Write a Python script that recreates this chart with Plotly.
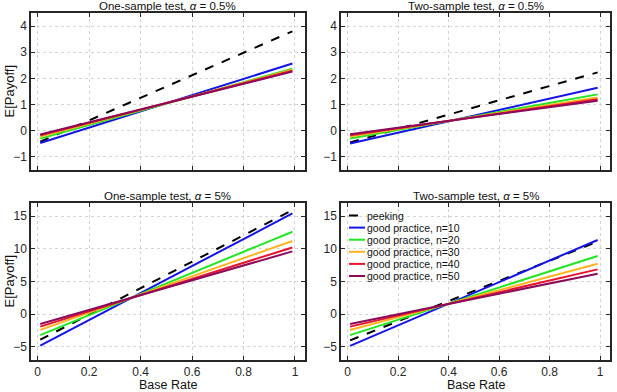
import plotly.graph_objects as go

# ---------------- data ----------------
base_rate = [0.01, 0.99]

series_names = ["peeking", "good practice, n=10", "good practice, n=20",
                "good practice, n=30", "good practice, n=40", "good practice, n=50"]
series_colors = ["#000000", "#1414e6", "#22e622", "#ffb41e", "#e6142d", "#8c0a5a"]
series_dash = ["dash", "solid", "solid", "solid", "solid", "solid"]

# One-sample test, alpha = 0.5%
one_a05_peeking = [-0.42, 3.80]
one_a05_n10 = [-0.47, 2.57]
one_a05_n20 = [-0.30, 2.37]
one_a05_n30 = [-0.22, 2.33]
one_a05_n40 = [-0.17, 2.29]
one_a05_n50 = [-0.14, 2.26]

# Two-sample test, alpha = 0.5%
two_a05_peeking = [-0.45, 2.23]
two_a05_n10 = [-0.49, 1.64]
two_a05_n20 = [-0.30, 1.39]
two_a05_n30 = [-0.22, 1.27]
two_a05_n40 = [-0.17, 1.20]
two_a05_n50 = [-0.13, 1.15]

# One-sample test, alpha = 5%
one_a5_peeking = [-3.9, 15.9]
one_a5_n10 = [-4.8, 15.4]
one_a5_n20 = [-3.2, 12.6]
one_a5_n30 = [-2.4, 11.2]
one_a5_n40 = [-1.9, 10.2]
one_a5_n50 = [-1.5, 9.6]

# Two-sample test, alpha = 5%
two_a5_peeking = [-4.0, 11.1]
two_a5_n10 = [-4.85, 11.35]
two_a5_n20 = [-3.2, 8.9]
two_a5_n30 = [-2.4, 7.7]
two_a5_n40 = [-1.9, 6.85]
two_a5_n50 = [-1.5, 6.2]

panel_titles = ["One-sample test, <i>α</i> = 0.5%", "Two-sample test, <i>α</i> = 0.5%",
                "One-sample test, <i>α</i> = 5%", "Two-sample test, <i>α</i> = 5%"]
panels = [
    [one_a05_peeking, one_a05_n10, one_a05_n20, one_a05_n30, one_a05_n40, one_a05_n50],
    [two_a05_peeking, two_a05_n10, two_a05_n20, two_a05_n30, two_a05_n40, two_a05_n50],
    [one_a5_peeking, one_a5_n10, one_a5_n20, one_a5_n30, one_a5_n40, one_a5_n50],
    [two_a5_peeking, two_a5_n10, two_a5_n20, two_a5_n30, two_a5_n40, two_a5_n50],
]

x_ticks = [0, 0.2, 0.4, 0.6, 0.8, 1]
y_ticks_top = [-1, 0, 1, 2, 3, 4]
y_ticks_bottom = [-5, 0, 5, 10, 15]

x_label = "Base Rate"
y_label = "E[Payoff]"

# ---------------- layout ----------------
W, H = 617, 392
FONT = "Liberation Sans, Arial, Helvetica, sans-serif"
AX = "#262626"

x_domains = [[31 / W, 305 / W], [341 / W, 610 / W]]
y_domains = [[1 - 170 / H, 1 - 13 / H], [1 - 360 / H, 1 - 203 / H]]
title_centers_px = [6, 196]

fig = go.Figure()
layout = dict(
    width=W, height=H, margin=dict(l=0, r=0, t=0, b=0),
    paper_bgcolor="white", plot_bgcolor="white", showlegend=False,
    font=dict(family=FONT, size=12, color=AX),
)
annotations = []

for p in range(4):
    row, col = divmod(p, 2)
    idx = "" if p == 0 else str(p + 1)
    xa, ya = "x" + idx, "y" + idx
    for s, vals in enumerate(panels[p]):
        fig.add_trace(go.Scatter(
            x=base_rate, y=vals, mode="lines", name=series_names[s],
            xaxis=xa, yaxis=ya,
            line=dict(color=series_colors[s], width=2, dash=series_dash[s]),
        ))
    top = row == 0
    common = dict(showline=True, mirror="ticks", linecolor=AX, linewidth=1.5,
                  ticks="inside", ticklen=4, tickcolor=AX, tickwidth=1,
                  showgrid=True, gridcolor="#d4d4d4", griddash="dot", gridwidth=1,
                  zeroline=False, tickfont=dict(size=12, color=AX, family=FONT))
    layout["xaxis" + idx] = dict(common, domain=x_domains[col], anchor=ya,
                                 range=[-0.026, 1.039], tickvals=x_ticks,
                                 ticktext=[("" if top else f"{v:g}") for v in x_ticks])
    layout["yaxis" + idx] = dict(common, domain=y_domains[row], anchor=xa,
                                 range=[-1.5, 4.5] if top else [-7, 17],
                                 tickvals=y_ticks_top if top else y_ticks_bottom)
    annotations.append(dict(
        text=panel_titles[p], xref="paper", yref="paper",
        x=sum(x_domains[col]) / 2, y=1 - title_centers_px[row] / H,
        xanchor="center", yanchor="middle", showarrow=False,
        font=dict(size=11.5, color="#111111", family=FONT)))
    if col == 0:
        annotations.append(dict(
            text=y_label, xref="paper", yref="paper", x=9 / W,
            y=sum(y_domains[row]) / 2, xanchor="center", yanchor="middle",
            textangle=-90, showarrow=False,
            font=dict(size=13, color="#111111", family=FONT)))
    if row == 1:
        annotations.append(dict(
            text=x_label, xref="paper", yref="paper",
            x=sum(x_domains[col]) / 2, y=7 / H,
            xanchor="center", yanchor="middle", showarrow=False,
            font=dict(size=12.5, color="#111111", family=FONT)))

# manual legend inside the bottom-right panel (MATLAB style, no box)
shapes = []
leg_x0, leg_x1, leg_text_x = 349, 365, 365
leg_y0, leg_dy = 215.5, 12.1
for s, name in enumerate(series_names):
    yc = 1 - (leg_y0 + s * leg_dy) / H
    shapes.append(dict(type="line", xref="paper", yref="paper",
                       x0=leg_x0 / W, x1=leg_x1 / W, y0=yc, y1=yc,
                       line=dict(color=series_colors[s], width=2, dash=series_dash[s])))
    annotations.append(dict(text=name, xref="paper", yref="paper",
                            x=leg_text_x / W, y=yc, xanchor="left", yanchor="middle",
                            showarrow=False,
                            font=dict(size=10.5, color="#111111", family=FONT)))

layout["annotations"] = annotations
layout["shapes"] = shapes
fig.update_layout(**layout)
fig.write_html("out.html", config={"displayModeBar": False},
               post_script="document.body.style.margin='0';document.body.style.overflow='hidden';")
